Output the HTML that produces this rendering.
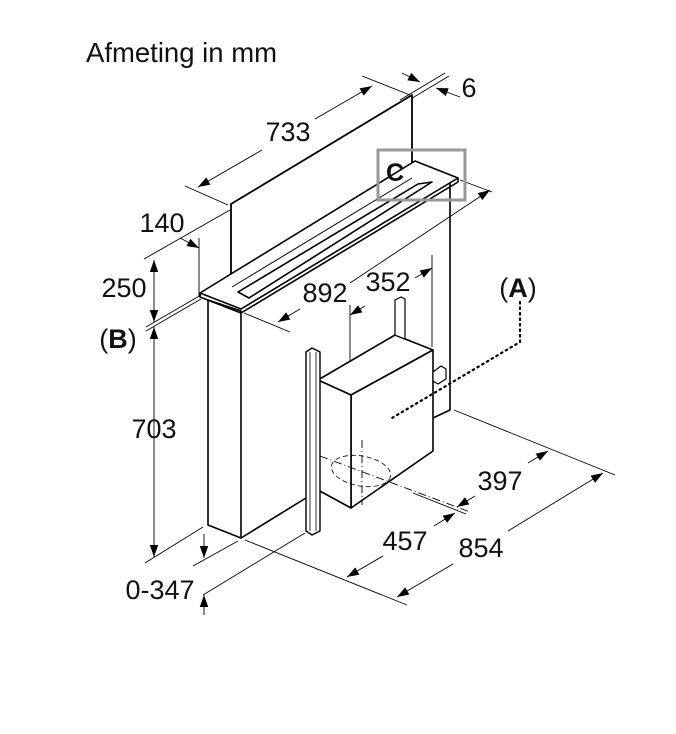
<!DOCTYPE html>
<html><head><meta charset="utf-8"><style>
html,body{margin:0;padding:0;background:#fff}
svg{display:block}
text{font-family:"Liberation Sans",sans-serif;fill:#111}
</style></head><body>
<svg width="676" height="734" viewBox="0 0 676 734" xmlns="http://www.w3.org/2000/svg">
<defs>
<marker id="a" viewBox="0 0 10 10" refX="10" refY="5" markerWidth="12" markerHeight="12" orient="auto-start-reverse" markerUnits="userSpaceOnUse"><path d="M0,1.5 L10,5 L0,8.5 z" fill="#000"/></marker>
</defs>
<text x="86" y="62" font-size="27.5">Afmeting in mm</text>

<g stroke="#000" stroke-width="0.9" fill="none">
<line x1="185" y1="186" x2="228" y2="205"/>
<line x1="362" y1="76" x2="410" y2="95"/>
<line x1="198" y1="187" x2="262" y2="150" marker-start="url(#a)"/>
<line x1="315" y1="119" x2="372" y2="86" marker-end="url(#a)"/>
<line x1="400" y1="100" x2="445" y2="73"/>
<line x1="404" y1="103" x2="449" y2="76"/>
<line x1="402" y1="73" x2="420" y2="82" marker-end="url(#a)"/>
<line x1="460" y1="97" x2="436" y2="88" marker-end="url(#a)"/>
<line x1="144" y1="259" x2="230" y2="210"/>
<line x1="180" y1="238" x2="199" y2="248" marker-end="url(#a)"/>
<line x1="199" y1="238" x2="199" y2="296"/>
<line x1="146" y1="327" x2="201" y2="295"/>
<line x1="146" y1="331" x2="201" y2="299"/>
<line x1="154" y1="260" x2="154" y2="322" marker-start="url(#a)" marker-end="url(#a)"/>
<line x1="154" y1="327" x2="154" y2="557" marker-start="url(#a)" marker-end="url(#a)"/>
<line x1="145" y1="563" x2="203" y2="527"/>
<line x1="193" y1="566" x2="238" y2="541"/>
<line x1="204" y1="534" x2="204" y2="558" marker-end="url(#a)"/>
<line x1="203" y1="595" x2="305" y2="533"/>
<line x1="204" y1="615" x2="204" y2="595" marker-end="url(#a)"/>
<line x1="245" y1="540" x2="407" y2="605"/>
<line x1="244" y1="313" x2="290" y2="332"/>
<line x1="278" y1="322" x2="300" y2="309" marker-start="url(#a)"/>
<line x1="460" y1="180" x2="492" y2="192"/>
<line x1="350" y1="283" x2="490" y2="190" marker-end="url(#a)"/>
<line x1="350" y1="305" x2="350" y2="395"/>
<line x1="432" y1="255" x2="432" y2="347"/>
<line x1="350" y1="315" x2="365" y2="306" marker-start="url(#a)"/>
<line x1="415" y1="278" x2="432" y2="268" marker-end="url(#a)"/>
<line x1="241" y1="260" x2="241" y2="295"/>
<line x1="241" y1="266" x2="258" y2="273" marker-start="url(#a)"/>
<line x1="454" y1="410" x2="615" y2="475"/>
<line x1="413" y1="493" x2="466" y2="514"/>
<line x1="457" y1="507" x2="475" y2="496" marker-start="url(#a)"/>
<line x1="528" y1="463" x2="548" y2="451" marker-end="url(#a)"/>
<line x1="347" y1="577" x2="383" y2="556" marker-start="url(#a)"/>
<line x1="434" y1="526" x2="455" y2="513" marker-end="url(#a)"/>
<line x1="397" y1="597" x2="453" y2="564" marker-start="url(#a)"/>
<line x1="508" y1="531" x2="603" y2="473" marker-end="url(#a)"/>
</g>

<g stroke="#000" stroke-width="1.6" fill="#fff" stroke-linejoin="round">
<polygon points="208,300 241,311 241,538 208,525"/>
<polyline points="450,182 450,410 433,418" fill="none"/>
<line x1="241" y1="538" x2="306" y2="498"/>
<polygon points="231,204 412,95 412,165 231,290" stroke-width="1.8"/>
<polygon points="200,293 415,161 458,178 241,309"/>
<polyline points="200,293 200,297 241,313 458,182 458,178" fill="none"/>
<polygon points="238,292 418,184 432,182 249,298" fill="#fff"/>
<line x1="232" y1="287" x2="412" y2="178" stroke-width="1"/>
<polygon points="318,380 395,335 433,350 351,395"/>
<polygon points="351,395 433,350 433,451 351,508"/>
<polygon points="318,380 351,395 351,508 318,490"/>
<polygon points="395,335 395,300 401,297 405,299 405,339" stroke-width="1.2"/>
<polygon points="433,372 441,366 446,369 446,379 438,384 433,381" stroke-width="1.2"/>
<polygon points="306,352 312,348 320,352 320,531 312,535 306,531" stroke-width="1.4"/>
<line x1="310" y1="352" x2="310" y2="531" stroke-width="0.8"/>
<line x1="316" y1="352" x2="316" y2="531" stroke-width="0.8"/>
</g>
<g stroke="#000" fill="none">
<ellipse cx="361" cy="471" rx="30" ry="15" stroke-dasharray="5,3" stroke-width="0.8" transform="rotate(10 361 471)"/>
<line x1="320" y1="456" x2="470" y2="512" stroke-dasharray="8,3,1,3" stroke-width="0.9"/>
<line x1="362" y1="440" x2="362" y2="505" stroke-dasharray="8,3,1,3" stroke-width="0.9"/>
<polyline points="520,302 520,342 392,418" stroke-dasharray="1.5,4" stroke-width="2.2" stroke-linecap="round"/>
</g>
<rect x="378" y="150" width="87" height="50" fill="none" stroke="#999" stroke-width="3"/>
<text x="386" y="181" font-size="25" font-weight="bold">C</text>

<g font-size="27" text-anchor="middle">
<text x="288" y="141">733</text>
<text x="469" y="97">6</text>
<text x="162" y="232">140</text>
<text x="124" y="297">250</text>
<text x="118" y="348">(<tspan font-weight="bold">B</tspan>)</text>
<text x="154" y="438">703</text>
<text x="160" y="599">0-347</text>
<text x="325" y="302">892</text>
<text x="388" y="291">352</text>
<text x="518" y="297">(<tspan font-weight="bold">A</tspan>)</text>
<text x="500" y="490">397</text>
<text x="405" y="550">457</text>
<text x="481" y="557">854</text>
</g>
</svg>
</body></html>
